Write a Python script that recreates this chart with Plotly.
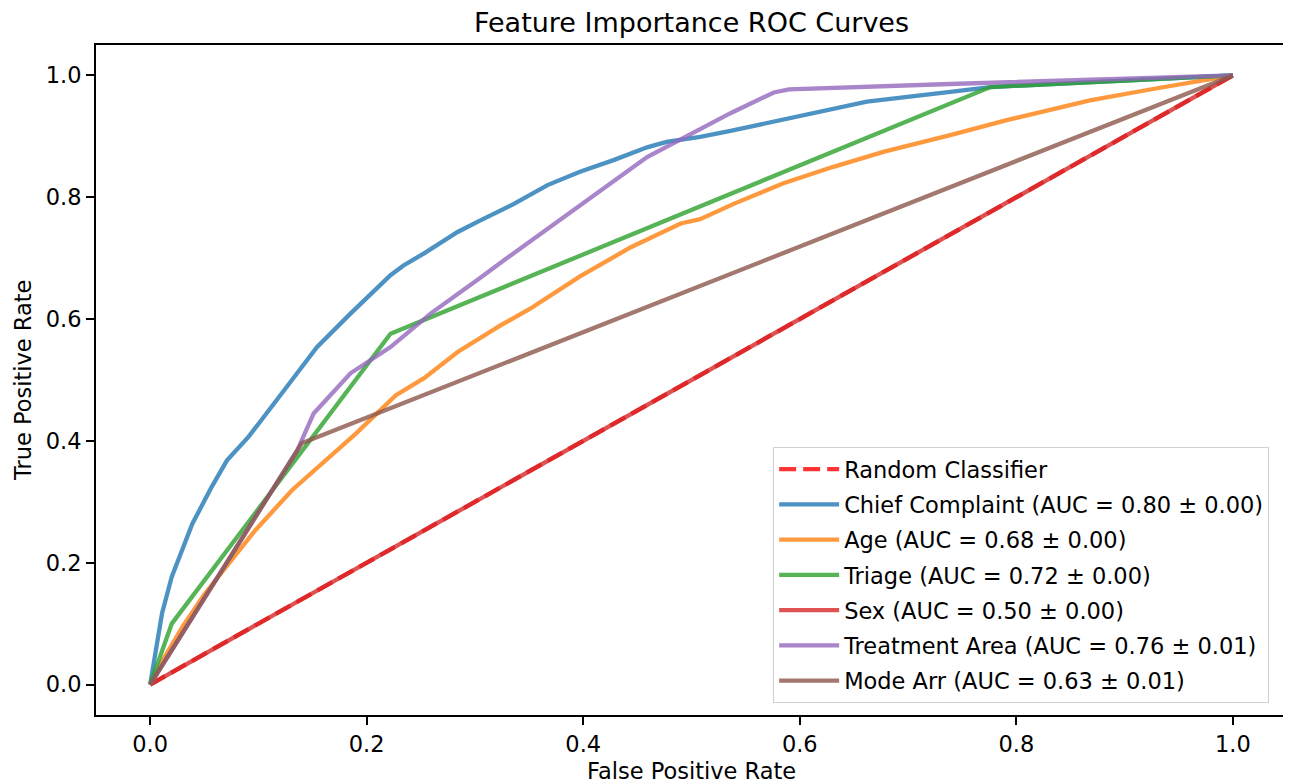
import plotly.graph_objects as go

# ---- data ----
random_fpr = [0.0, 1.0]
random_tpr = [0.0, 1.0]

cc_fpr = [0, 0.011, 0.020, 0.039, 0.057, 0.071, 0.091, 0.109, 0.131, 0.154, 0.185, 0.222, 0.234,
          0.253, 0.284, 0.305, 0.336, 0.367, 0.397, 0.428, 0.459, 0.477, 0.508, 0.536, 0.585,
          0.662, 0.739, 0.776, 1.0]
cc_tpr = [0, 0.117, 0.177, 0.264, 0.325, 0.368, 0.407, 0.450, 0.500, 0.554, 0.609, 0.672, 0.688,
          0.708, 0.743, 0.762, 0.789, 0.820, 0.842, 0.861, 0.882, 0.891, 0.899, 0.909, 0.927,
          0.957, 0.973, 0.981, 1.0]

age_fpr = [0, 0.01, 0.03, 0.05, 0.063, 0.097, 0.131, 0.162, 0.173, 0.190, 0.227, 0.253, 0.284,
           0.324, 0.351, 0.397, 0.444, 0.490, 0.508, 0.540, 0.585, 0.631, 0.678, 0.708, 0.739,
           0.792, 0.868, 0.930, 1.0]
age_tpr = [0, 0.035, 0.095, 0.148, 0.177, 0.253, 0.319, 0.368, 0.387, 0.412, 0.475, 0.503, 0.546,
           0.590, 0.617, 0.670, 0.718, 0.757, 0.764, 0.790, 0.823, 0.850, 0.875, 0.888, 0.902,
           0.927, 0.959, 0.979, 1.0]

triage_fpr = [0, 0.020, 0.222, 0.776, 1.0]
triage_tpr = [0, 0.100, 0.576, 0.981, 1.0]

sex_fpr = [0.0, 1.0]
sex_tpr = [0.0, 1.0]

ta_fpr = [0, 0.136, 0.151, 0.173, 0.185, 0.222, 0.259, 0.305, 0.324, 0.459, 0.490, 0.536,
          0.576, 0.590, 0.739, 1.0]
ta_tpr = [0, 0.385, 0.445, 0.489, 0.511, 0.554, 0.609, 0.668, 0.693, 0.866, 0.895, 0.938,
          0.972, 0.977, 0.986, 1.0]

mode_fpr = [0, 0.140, 1.0]
mode_tpr = [0, 0.396, 1.0]

names = ["Chief Complaint (AUC = 0.80 ± 0.00)",
         "Age (AUC = 0.68 ± 0.00)",
         "Triage (AUC = 0.72 ± 0.00)",
         "Sex (AUC = 0.50 ± 0.00)",
         "Treatment Area (AUC = 0.76 ± 0.01)",
         "Mode Arr (AUC = 0.63 ± 0.01)"]
colors = ["rgba(31,119,180,0.8)", "rgba(255,127,14,0.8)", "rgba(44,160,44,0.8)",
          "rgba(214,39,40,0.8)", "rgba(148,103,189,0.8)", "rgba(140,86,75,0.8)"]
curves = [(cc_fpr, cc_tpr), (age_fpr, age_tpr), (triage_fpr, triage_tpr),
          (sex_fpr, sex_tpr), (ta_fpr, ta_tpr), (mode_fpr, mode_tpr)]

tick_vals = [0.0, 0.2, 0.4, 0.6, 0.8, 1.0]
x_title = "False Positive Rate"
y_title = "True Positive Rate"
chart_title = "Feature Importance ROC Curves"

FONT = "DejaVu Sans"
FS = 22.5

fig = go.Figure()
fig.add_trace(go.Scatter(x=random_fpr, y=random_tpr, mode="lines", name="Random Classifier",
                         legendgroup="g0",
                         line=dict(color="rgba(255,0,0,0.8)", width=4.3, dash="17px,7px")))
for i, ((fx, ty), nm, col) in enumerate(zip(curves, names, colors)):
    fig.add_trace(go.Scatter(x=fx, y=ty, mode="lines", name=nm, legendgroup=f"g{i+1}",
                             line=dict(color=col, width=4.3)))

axis_common = dict(
    showline=True, linecolor="black", linewidth=1.8, mirror=True,
    ticks="outside", ticklen=8, tickwidth=1.8, tickcolor="black",
    showgrid=False, zeroline=False, tickvals=tick_vals, tickformat=".1f",
    tickfont=dict(family=FONT, size=FS, color="black"),
    range=[-0.05, 1.05], automargin=False,
)

# the page adds an 8px body margin, so the figure is 8px smaller than the window
fig.update_layout(
    width=1283, height=776,
    margin=dict(l=88, r=4, t=37, b=69),
    paper_bgcolor="white", plot_bgcolor="white",
    font=dict(family=FONT, color="black"),
    title=dict(text=chart_title, x=0.5, xref="paper", xanchor="center",
               y=0.981, yref="container", yanchor="middle",
               font=dict(family=FONT, size=27, color="black")),
    xaxis=axis_common,
    yaxis=axis_common,
    legend=dict(x=0.985, y=0.018, xanchor="right", yanchor="bottom",
                bgcolor="rgba(255,255,255,0.8)", bordercolor="#d0d0d0", borderwidth=1,
                font=dict(family=FONT, size=FS, color="black"),
                tracegroupgap=3, itemwidth=60),
    showlegend=True,
    annotations=[
        dict(text=x_title, xref="paper", yref="paper", x=0.5, y=-0.083,
             xanchor="center", yanchor="middle", showarrow=False,
             font=dict(family=FONT, size=FS, color="black")),
        dict(text=y_title, xref="paper", yref="paper", x=-0.0613, y=0.5,
             xanchor="center", yanchor="middle", showarrow=False, textangle=-90,
             font=dict(family=FONT, size=FS, color="black")),
    ],
)

fig.write_html("out.html")
